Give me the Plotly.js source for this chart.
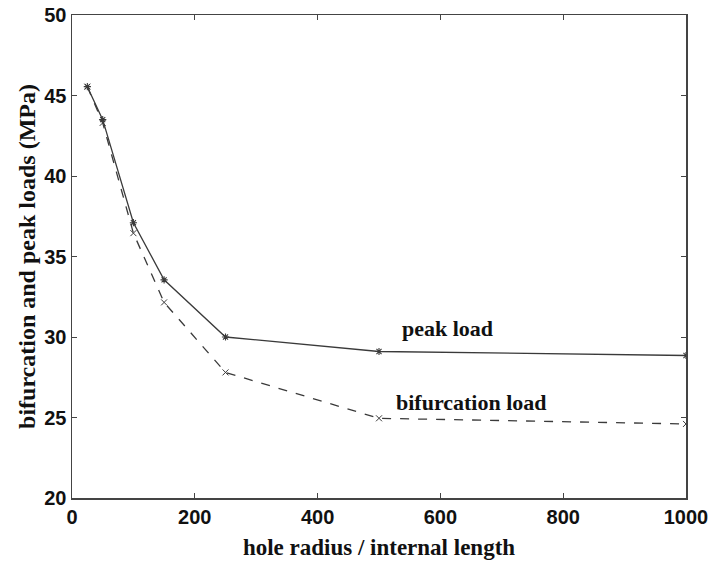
<!DOCTYPE html>
<html>
<head>
<meta charset="utf-8">
<script src="https://cdn.plot.ly/plotly-3.0.1.min.js"></script>
<style>html,body{margin:0;padding:0;background:#fff;}#chart{width:713px;height:564px;}</style>
</head>
<body>
<div id="chart"></div>
<script>
var holeRadius = [25, 50, 100, 150, 250, 500, 1000];
var peakLoad = [45.55, 43.5, 37.1, 33.55, 30.0, 29.1, 28.85];
var bifurcationLoad = [45.55, 43.3, 36.45, 32.15, 27.8, 24.95, 24.6];
var xTicks = [0, 200, 400, 600, 800, 1000];
var yTicks = [20, 25, 30, 35, 40, 45, 50];
var labels = [
  {text: "peak load", x: 612, y: 30.5},
  {text: "bifurcation load", x: 651, y: 25.95}
];

var lineColor = "#3a3a3a";
var traces = [
  {x: holeRadius, y: peakLoad, mode: "lines+markers", type: "scatter",
   line: {color: lineColor, width: 1.3},
   marker: {symbol: "asterisk-open", size: 6, color: lineColor, line: {color: lineColor, width: 1.1}}},
  {x: holeRadius, y: bifurcationLoad, mode: "lines+markers", type: "scatter",
   line: {color: lineColor, width: 1.3, dash: "dash"},
   marker: {symbol: "x-thin-open", size: 6, color: lineColor, line: {color: lineColor, width: 1}}}
];

var axisCommon = {
  showgrid: false, zeroline: false, showline: true, mirror: "ticks",
  linecolor: "#444", linewidth: 1.5, ticks: "inside", ticklen: 5, tickwidth: 1, tickcolor: "#444",
  tickfont: {family: "Liberation Sans, Arial, sans-serif", size: 20, color: "#111", weight: 700}
};

var layout = {
  width: 713, height: 564,
  margin: {l: 72, r: 27, t: 15, b: 66},
  paper_bgcolor: "#fff", plot_bgcolor: "#fff",
  showlegend: false,
  xaxis: Object.assign({}, axisCommon, {
    range: [0, 1000], tickvals: xTicks, ticktext: xTicks.map(String),
    title: {text: "hole radius / internal length", standoff: 12,
            font: {family: "Liberation Serif, Times New Roman, serif", size: 23, color: "#111", weight: 700}}
  }),
  yaxis: Object.assign({}, axisCommon, {
    range: [20, 50], tickvals: yTicks, ticktext: yTicks.map(String), ticklabelstandoff: 0,
    title: {text: "bifurcation and peak loads (MPa)", standoff: 2,
            font: {family: "Liberation Serif, Times New Roman, serif", size: 24, color: "#111", weight: 700}}
  }),
  annotations: labels.map(function (l) {
    return {text: l.text, x: l.x, y: l.y, xref: "x", yref: "y", showarrow: false,
            font: {family: "Liberation Serif, Times New Roman, serif", size: 22, color: "#111", weight: 700}};
  })
};

Plotly.newPlot("chart", traces, layout, {displayModeBar: false, staticPlot: true});
</script>
</body>
</html>
